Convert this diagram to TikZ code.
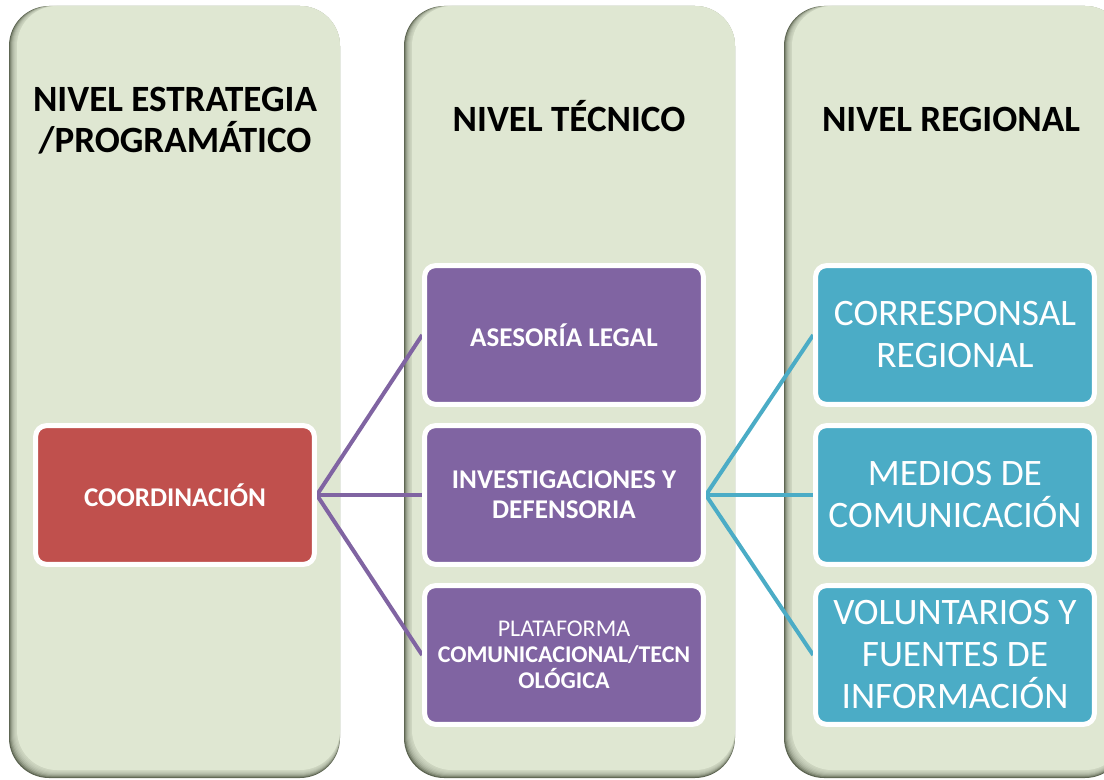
\documentclass[tikz,border=0pt]{standalone}
\usepackage{fontspec}
\setmainfont{Carlito}
\definecolor{panelbg}{HTML}{DFE7D2}
\definecolor{shadowc}{HTML}{5E6653}
\definecolor{cred}{HTML}{C0504D}
\definecolor{cpurple}{HTML}{8064A2}
\definecolor{cteal}{HTML}{4BACC6}
\pgfdeclarelayer{panels}
\pgfdeclarelayer{links}
\pgfsetlayers{panels,links,main}
\begin{document}
\begin{tikzpicture}[x=0.75pt,y=-0.75pt,
  box/.style={draw=white, line width=3.75pt, rounded corners=8pt,
    minimum width=209pt, minimum height=104pt, align=center,
    text=white, inner sep=2pt},
  redbox/.style={box, fill=cred},
  purplebox/.style={box, fill=cpurple},
  tealbox/.style={box, fill=cteal, font=\fontsize{28}{31.5}\selectfont},
  bigbold/.style={font=\bfseries\fontsize{20.3}{22.5}\selectfont},
  header/.style={align=center, text=black, font=\bfseries\fontsize{27.8}{30.75}\selectfont},
  plink/.style={draw=cpurple, line width=3pt},
  tlink/.style={draw=cteal, line width=3pt}]
\useasboundingbox (0,0) rectangle (1104,780);
\clip (0,0) rectangle (1104,780);

\begin{pgfonlayer}{panels}
\foreach \xa/\xb in {9/340, 404/735, 784/1125}{
  \fill[shadowc, rounded corners=30pt] (\xa,6) rectangle (\xb,778);
  \foreach \i in {1,...,8}{
    \fill[panelbg, opacity=0.26, rounded corners=30pt] (\xa+\i,6) rectangle (\xb,778-\i);
  }
  \fill[panelbg, rounded corners=30pt] (\xa+8,6) rectangle (\xb,770);
}
\end{pgfonlayer}

\node[header] (h1) at (175,121) {NIVEL ESTRATEGIA\\/PROGRAMÁTICO};
\node[header, anchor=base] (h2) at (569,132) {NIVEL TÉCNICO};
\node[header, anchor=base] (h3) at (951,132) {NIVEL REGIONAL};

\node[redbox, bigbold] (coord) at (175,495) {COORDINACIÓN};
\node[purplebox, bigbold] (ases) at (564,335) {ASESORÍA LEGAL};
\node[purplebox, bigbold] (inv) at (564,495) {INVESTIGACIONES Y\\DEFENSORIA};
\node[purplebox, font=\fontsize{18}{19.5}\selectfont] (plat) at (564,655)
  {PLATAFORMA\\\textbf{COMUNICACIONAL/TECN}\\\textbf{OLÓGICA}};
\node[tealbox] (corr) at (955,335) {CORRESPONSAL\\REGIONAL};
\node[tealbox] (med) at (955,495) {MEDIOS DE\\COMUNICACIÓN};
\node[tealbox] (vol) at (955,655) {VOLUNTARIOS Y\\FUENTES DE\\INFORMACIÓN};

\begin{pgfonlayer}{links}
\draw[plink] (coord.east) -- (ases.west);
\draw[plink] (coord.east) -- (inv.west);
\draw[plink] (coord.east) -- (plat.west);
\draw[tlink] (inv.east) -- (corr.west);
\draw[tlink] (inv.east) -- (med.west);
\draw[tlink] (inv.east) -- (vol.west);
\end{pgfonlayer}
\end{tikzpicture}
\end{document}
